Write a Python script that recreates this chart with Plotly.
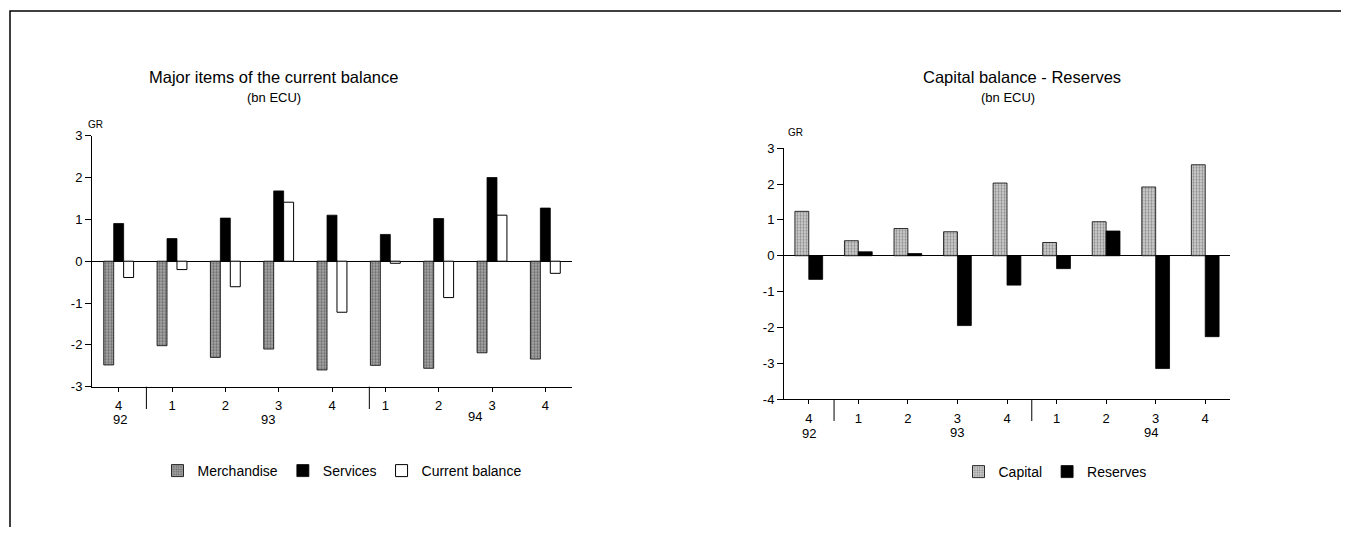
import plotly.graph_objects as go

quarters = ["4", "1", "2", "3", "4", "1", "2", "3", "4"]
years = ["92", "93", "94"]

merchandise = [-2.48, -2.02, -2.30, -2.10, -2.60, -2.49, -2.56, -2.19, -2.34]
services = [0.90, 0.54, 1.03, 1.68, 1.10, 0.64, 1.02, 2.00, 1.27]
current_balance = [-0.39, -0.20, -0.61, 1.41, -1.22, -0.05, -0.87, 1.10, -0.29]

capital = [1.24, 0.42, 0.76, 0.67, 2.03, 0.37, 0.95, 1.92, 2.54]
reserves = [-0.66, 0.11, 0.06, -1.95, -0.82, -0.36, 0.69, -3.15, -2.26]

left_ticks = [-3, -2, -1, 0, 1, 2, 3]
right_ticks = [-4, -3, -2, -1, 0, 1, 2, 3]

VW, VH = 1349, 535          # browser window
OFF = 8                     # default body margin of the html page
W, H = VW - 2 * OFF, VH - 2 * OFF
FONT = "Liberation Sans, Arial, Helvetica, sans-serif"


def px(x):
    return (x - OFF) / W


def py(y):
    return 1 - (y - OFF) / H


idx = list(range(len(quarters)))

fig = go.Figure()

line = dict(color="black", width=0.8)
fig.add_trace(go.Bar(x=idx, y=merchandise, name="Merchandise", xaxis="x", yaxis="y",
                     marker=dict(color="#9a9a9a", line=line,
                                 pattern=dict(shape=".", fgcolor="#2e2e2e", bgcolor="#b0b0b0",
                                              size=3, solidity=0.5)),
                     legend="legend"))
fig.add_trace(go.Bar(x=idx, y=services, name="Services", xaxis="x", yaxis="y",
                     marker=dict(color="black", line=line), legend="legend"))
fig.add_trace(go.Bar(x=idx, y=current_balance, name="Current balance", xaxis="x", yaxis="y",
                     marker=dict(color="white", line=dict(color="black", width=1)), legend="legend"))

fig.add_trace(go.Bar(x=idx, y=capital, name="Capital", xaxis="x2", yaxis="y2",
                     marker=dict(color="#c8c8c8", line=line,
                                 pattern=dict(shape=".", fgcolor="#444444", bgcolor="#d4d4d4",
                                              size=3, solidity=0.45)),
                     legend="legend2"))
fig.add_trace(go.Bar(x=idx, y=reserves, name="Reserves", xaxis="x2", yaxis="y2",
                     marker=dict(color="black", line=line), legend="legend2"))

common_x = dict(range=[-0.5, 8.5], tickmode="array", tickvals=idx, ticktext=quarters,
                showline=True, linecolor="black", linewidth=1, ticks="outside", ticklen=4,
                tickcolor="black", showgrid=False, zeroline=False, fixedrange=True,
                ticklabelstandoff=3, automargin=False,
                tickfont=dict(family=FONT, size=13, color="black"))
common_y = dict(showline=True, linecolor="black", linewidth=1, ticks="outside", ticklen=6,
                tickcolor="black", showgrid=False, zeroline=True, zerolinecolor="black",
                zerolinewidth=1, tickmode="array", automargin=False,
                tickfont=dict(family=FONT, size=13, color="black"),
                fixedrange=True)

L_top, L_bot = 135.7, 386.7
R_top, R_bot = 148.3, 399.0
fig.update_layout(
    xaxis=dict(domain=[px(92), px(572)], anchor="y", **common_x),
    yaxis=dict(domain=[py(L_bot), py(L_top)], anchor="x", range=[-3, 3],
               tickvals=left_ticks, ticktext=[str(v) for v in left_ticks], **common_y),
    xaxis2=dict(domain=[px(784), px(1230)], anchor="y2", **common_x),
    yaxis2=dict(domain=[py(R_bot), py(R_top)], anchor="x2", range=[-4, 3],
                tickvals=right_ticks, ticktext=[str(v) for v in right_ticks], **common_y),
)

fig.update_layout(
    width=W, height=H, margin=dict(l=0, r=0, t=0, b=0, autoexpand=False),
    paper_bgcolor="white", plot_bgcolor="white",
    barmode="group", bargap=0.44, bargroupgap=0,
    font=dict(family=FONT, color="black"),
    showlegend=True,
    legend=dict(orientation="h", x=px(342), y=py(471), xanchor="center", yanchor="middle",
                font=dict(family=FONT, size=14, color="black"), itemwidth=30,
                tracegroupgap=0, itemclick=False, bgcolor="rgba(0,0,0,0)"),
    legend2=dict(orientation="h", x=px(1055), y=py(472), xanchor="center", yanchor="middle",
                 font=dict(family=FONT, size=14, color="black"), itemwidth=30,
                 tracegroupgap=0, itemclick=False, bgcolor="rgba(0,0,0,0)"),
)

ann = []


def text(x, y, s, size):
    ann.append(dict(x=px(x), y=py(y), xref="paper", yref="paper", text=s, showarrow=False,
                    xanchor="center", yanchor="middle",
                    font=dict(family=FONT, size=size, color="black")))


text(273, 77, "Major items of the current balance", 16.5)
text(274, 97, "(bn ECU)", 13)
text(1022, 77, "Capital balance - Reserves", 16.5)
text(1008, 97, "(bn ECU)", 13)
text(95, 124, "GR", 10)
text(795, 133, "GR", 10)

left_year_pos = [0.03, 2.8, 6.68]
left_year_y = [419.5, 419.5, 416.5]
for p, yy, s in zip(left_year_pos, left_year_y, years):
    ann.append(dict(x=p, y=py(yy), xref="x", yref="paper", text=s, showarrow=False,
                    xanchor="center", yanchor="middle",
                    font=dict(family=FONT, size=13, color="black")))
right_year_pos = [0.0, 3.0, 6.9]
right_year_y = [433, 432, 432]
for p, yy, s in zip(right_year_pos, right_year_y, years):
    ann.append(dict(x=p, y=py(yy), xref="x2", yref="paper", text=s, showarrow=False,
                    xanchor="center", yanchor="middle",
                    font=dict(family=FONT, size=13, color="black")))
fig.update_layout(annotations=ann)

shapes = []
for d in [0.52, 4.7]:
    shapes.append(dict(type="line", xref="x", yref="paper", x0=d, x1=d,
                       y0=py(L_bot), y1=py(409), line=dict(color="black", width=1)))
for d in [0.51, 4.5]:
    shapes.append(dict(type="line", xref="x2", yref="paper", x0=d, x1=d,
                       y0=py(R_bot), y1=py(421), line=dict(color="black", width=1)))
shapes.append(dict(type="path", xref="paper", yref="paper",
                   path=f"M {px(10)} {py(540)} L {px(10)} {py(11)} L {px(1352)} {py(11)}",
                   line=dict(color="black", width=1.5)))
fig.update_layout(shapes=shapes)

fig.write_html("out.html")
